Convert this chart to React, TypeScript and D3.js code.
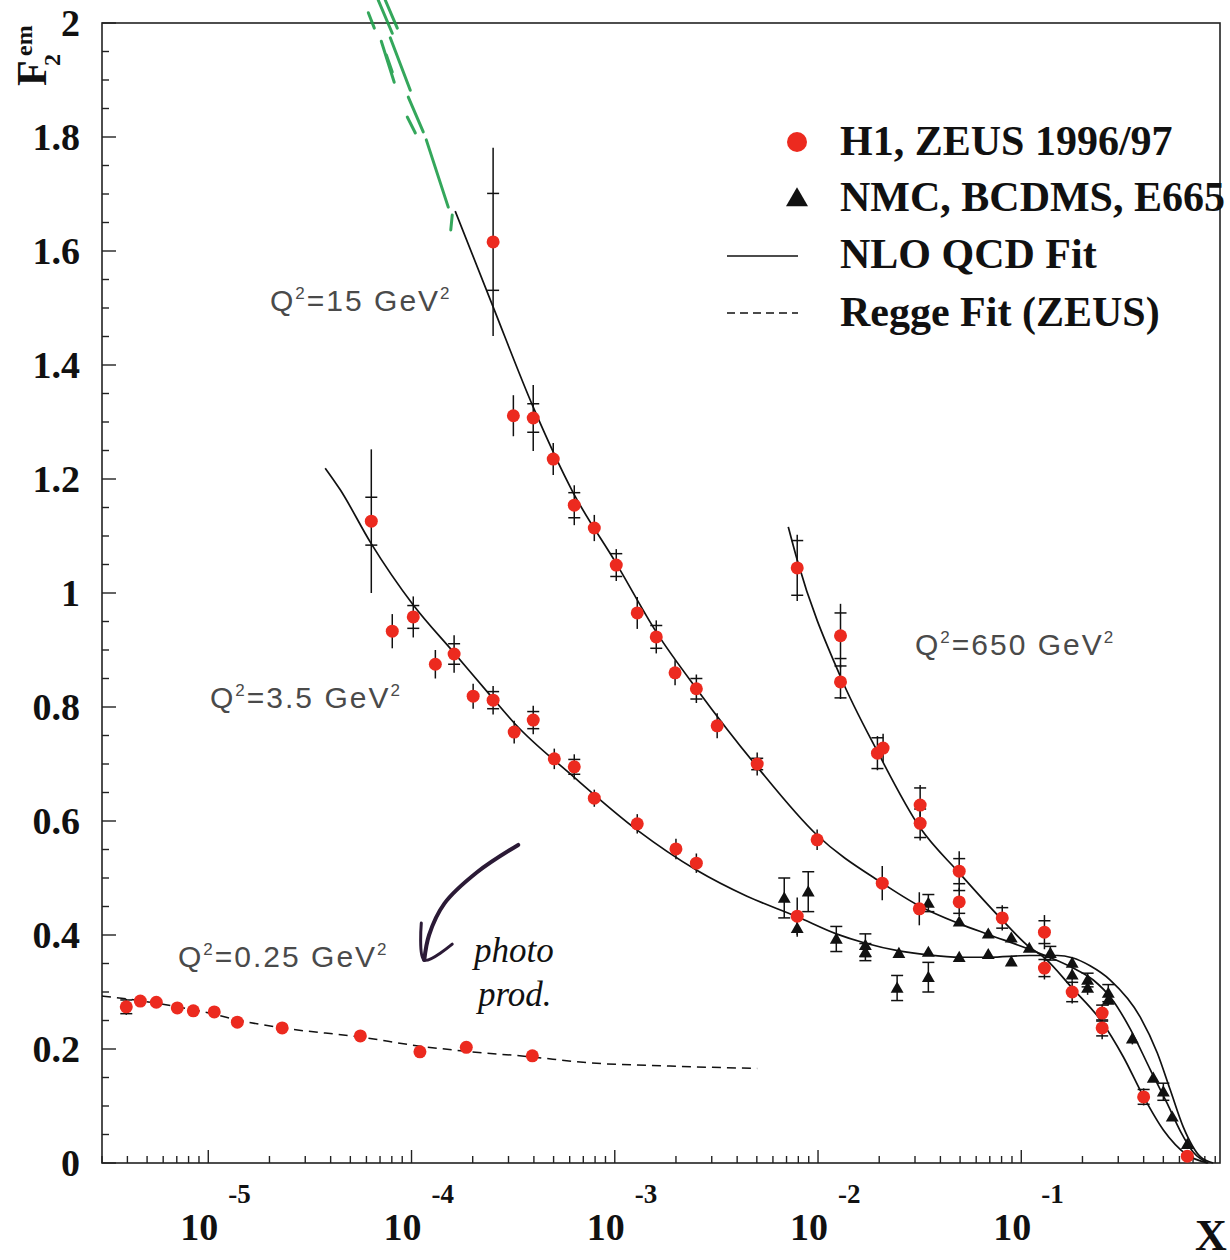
import React from "react";
import * as d3 from "d3";

const W = 1230;
const H = 1260;
const PLOT = { left: 102, right: 1220, top: 23, bottom: 1163 };
const X_DOMAIN: [number, number] = [3e-6, 0.95];
const Y_DOMAIN: [number, number] = [0, 2];

// y-axis tick labels
const yMajorTicks = [0, 0.2, 0.4, 0.6, 0.8, 1, 1.2, 1.4, 1.6, 1.8, 2];
const yMinorStep = 0.05;
// x-axis decade labels (exponents)
const xDecades = [-5, -4, -3, -2, -1];

// points: [x, F2, total error, statistical error (tick marks)]
type Pt = [number, number, number, number];

const h1zeusQ2_15: Pt[] = [
  [2.52e-4, 1.616, 0.165, 0.085],
  [3.17e-4, 1.311, 0.036, 0],
  [3.97e-4, 1.307, 0.058, 0.025],
  [4.98e-4, 1.235, 0.028, 0],
  [6.32e-4, 1.154, 0.035, 0.022],
  [7.93e-4, 1.114, 0.023, 0],
  [1.017e-3, 1.049, 0.028, 0.02],
  [1.29e-3, 0.965, 0.028, 0],
  [1.6e-3, 0.923, 0.029, 0.02],
  [1.98e-3, 0.86, 0.022, 0],
  [2.52e-3, 0.832, 0.025, 0.018],
  [3.19e-3, 0.767, 0.022, 0],
  [5.02e-3, 0.7, 0.02, 0.01],
  [9.9e-3, 0.567, 0.018, 0],
  [2.07e-2, 0.491, 0.03, 0],
  [3.15e-2, 0.446, 0.029, 0],
];

const h1zeusQ2_3p5: Pt[] = [
  [6.34e-5, 1.126, 0.126, 0.042],
  [8.04e-5, 0.933, 0.03, 0],
  [1.02e-4, 0.958, 0.036, 0.02],
  [1.31e-4, 0.875, 0.025, 0],
  [1.62e-4, 0.893, 0.033, 0.018],
  [2.01e-4, 0.819, 0.022, 0],
  [2.52e-4, 0.812, 0.025, 0.015],
  [3.2e-4, 0.756, 0.02, 0],
  [3.97e-4, 0.777, 0.025, 0.015],
  [5.04e-4, 0.709, 0.018, 0],
  [6.32e-4, 0.695, 0.022, 0.013],
  [7.93e-4, 0.64, 0.015, 0],
  [1.29e-3, 0.595, 0.017, 0],
  [2.0e-3, 0.551, 0.018, 0],
  [2.52e-3, 0.526, 0.017, 0],
  [7.9e-3, 0.433, 0.033, 0],
];

const h1zeusQ2_650: Pt[] = [
  [7.9e-3, 1.044, 0.058, 0.048],
  [1.29e-2, 0.925, 0.056, 0.04],
  [1.29e-2, 0.844, 0.03, 0.028],
  [1.96e-2, 0.719, 0.03, 0.027],
  [2.09e-2, 0.728, 0.025, 0],
  [3.18e-2, 0.628, 0.035, 0.03],
  [3.18e-2, 0.596, 0.03, 0.025],
  [4.95e-2, 0.512, 0.035, 0.022],
  [4.95e-2, 0.458, 0.025, 0.02],
  [8.06e-2, 0.43, 0.022, 0.018],
  [0.13, 0.405, 0.03, 0.02],
  [0.13, 0.342, 0.02, 0.015],
  [0.178, 0.3, 0.02, 0.017],
  [0.25, 0.263, 0.015, 0.014],
  [0.25, 0.237, 0.02, 0.014],
  [0.4, 0.116, 0.015, 0.013],
  [0.656, 0.012, 0, 0],
];

const h1zeusQ2_025: Pt[] = [
  [3.95e-6, 0.274, 0.014, 0.012],
  [4.63e-6, 0.284, 0.008, 0],
  [5.55e-6, 0.282, 0.008, 0],
  [7.04e-6, 0.272, 0.006, 0],
  [8.44e-6, 0.267, 0.006, 0],
  [1.07e-5, 0.265, 0.008, 0],
  [1.39e-5, 0.247, 0.006, 0],
  [2.31e-5, 0.237, 0.006, 0],
  [5.6e-5, 0.223, 0.01, 0],
  [1.1e-4, 0.195, 0.008, 0],
  [1.86e-4, 0.203, 0.01, 0],
  [3.93e-4, 0.188, 0.01, 0],
];

const fixedTarget: Pt[] = [
  [6.82e-3, 0.465, 0.035, 0.035],
  [7.9e-3, 0.412, 0.015, 0],
  [8.95e-3, 0.476, 0.035, 0.035],
  [1.23e-2, 0.393, 0.022, 0.022],
  [1.71e-2, 0.382, 0.02, 0.02],
  [1.71e-2, 0.37, 0.015, 0.015],
  [2.45e-2, 0.307, 0.022, 0.022],
  [2.5e-2, 0.368, 0, 0],
  [3.49e-2, 0.456, 0.015, 0.015],
  [3.49e-2, 0.37, 0, 0],
  [3.49e-2, 0.326, 0.026, 0.026],
  [4.95e-2, 0.423, 0, 0],
  [4.95e-2, 0.361, 0, 0],
  [6.88e-2, 0.402, 0, 0],
  [6.88e-2, 0.366, 0, 0],
  [8.93e-2, 0.395, 0, 0],
  [8.93e-2, 0.353, 0, 0],
  [0.1095, 0.377, 0, 0],
  [0.139, 0.368, 0.012, 0.012],
  [0.178, 0.351, 0.01, 0],
  [0.178, 0.33, 0.01, 0],
  [0.212, 0.321, 0.012, 0.012],
  [0.212, 0.307, 0.012, 0],
  [0.268, 0.298, 0.015, 0.015],
  [0.268, 0.286, 0.01, 0],
  [0.352, 0.218, 0.01, 0],
  [0.446, 0.149, 0, 0],
  [0.5, 0.125, 0.015, 0.015],
  [0.553, 0.081, 0, 0],
  [0.656, 0.033, 0, 0],
];

// NLO QCD fit curves: [x, F2]
const nloQ2_3p5: [number, number][] = [
  [3.76e-5, 1.219], [4.46e-5, 1.181], [6.3e-5, 1.088], [1.02e-4, 0.979],
  [1.62e-4, 0.895], [2.5e-4, 0.816], [3.2e-4, 0.772], [6.3e-4, 0.677],
  [1.29e-3, 0.584], [2.52e-3, 0.514], [4.47e-3, 0.468], [7.9e-3, 0.432],
  [1.23e-2, 0.402], [1.7e-2, 0.386], [2.5e-2, 0.372], [3.47e-2, 0.365],
  [5.0e-2, 0.361], [6.9e-2, 0.361], [0.11, 0.364], [0.151, 0.364],
  [0.178, 0.36], [0.218, 0.346], [0.274, 0.321], [0.385, 0.256],
  [0.467, 0.193], [0.541, 0.128], [0.627, 0.063], [0.76, 0.011], [0.88, 0.0],
];

const nloQ2_15: [number, number][] = [
  [1.64e-4, 1.67], [2.52e-4, 1.502], [3.97e-4, 1.326], [6.2e-4, 1.178],
  [1.02e-3, 1.051], [1.61e-3, 0.93], [2.55e-3, 0.83], [5.02e-3, 0.695],
  [9.9e-3, 0.575], [2.07e-2, 0.491], [3.15e-2, 0.451], [4.95e-2, 0.42],
  [6.88e-2, 0.401], [0.1095, 0.375], [0.18, 0.342], [0.226, 0.321],
  [0.28, 0.287], [0.344, 0.235], [0.431, 0.164], [0.523, 0.104],
  [0.606, 0.056], [0.702, 0.019], [0.832, 0.0],
];

const nloQ2_650: [number, number][] = [
  [7.14e-3, 1.116], [7.9e-3, 1.058], [1.29e-2, 0.853], [1.98e-2, 0.719],
  [3.18e-2, 0.588], [4.95e-2, 0.509], [7.88e-2, 0.43], [0.1095, 0.379],
  [0.13, 0.36], [0.178, 0.307], [0.25, 0.247], [0.318, 0.186],
  [0.4, 0.116], [0.5, 0.058], [0.656, 0.014], [0.822, 0.0],
];

// Regge fit (ZEUS), Q2 = 0.25 GeV2
const reggeQ2_025: [number, number][] = [
  [3e-6, 0.293], [3.95e-6, 0.288], [7.04e-6, 0.274], [1.07e-5, 0.261],
  [1.39e-5, 0.251], [2.31e-5, 0.237], [5.6e-5, 0.221], [1.1e-4, 0.205],
  [1.86e-4, 0.196], [3.93e-4, 0.186], [6.76e-4, 0.177], [1.87e-3, 0.17],
  [5.02e-3, 0.166],
];

// hand-drawn green extension strokes: [x1, F2_1, x2, F2_2]
const greenStrokes: [number, number, number, number][] = [
  [6.13e-5, 2.018, 6.56e-5, 1.991],
  [6.86e-5, 2.04, 8.04e-5, 1.982],
  [7.43e-5, 2.04, 8.51e-5, 1.991],
  [7.1e-5, 1.968, 8.22e-5, 1.896],
  [7.86e-5, 1.974, 9.86e-5, 1.882],
  [7.52e-5, 1.944, 8.04e-5, 1.914],
  [9.64e-5, 1.87, 1.142e-4, 1.809],
  [9.53e-5, 1.835, 1.044e-4, 1.807],
  [1.182e-4, 1.795, 1.516e-4, 1.677],
  [1.586e-4, 1.663, 1.56e-4, 1.637],
];

// hand-drawn arrow (shaft and head), [x, F2]
const arrowShaft: [number, number][] = [
  [3.35e-4, 0.558], [2.1e-4, 0.51], [1.45e-4, 0.455], [1.22e-4, 0.4], [1.155e-4, 0.356],
];
const arrowHead: [number, number][] = [
  [1.117e-4, 0.421], [1.155e-4, 0.356], [1.586e-4, 0.384],
];

const RED = "#ec2a1f";
const SERIF = "'Liberation Serif', 'Times New Roman', serif";
const SANS = "'Liberation Sans', Arial, sans-serif";

export default function App() {
  const x = d3.scaleLog().domain(X_DOMAIN).range([PLOT.left, PLOT.right]);
  const y = d3.scaleLinear().domain(Y_DOMAIN).range([PLOT.bottom, PLOT.top]);

  const line = d3
    .line<[number, number]>()
    .x((d) => x(d[0]))
    .y((d) => y(d[1]))
    .curve(d3.curveMonotoneX);
  const rough = d3
    .line<[number, number]>()
    .x((d) => x(d[0]))
    .y((d) => y(d[1]))
    .curve(d3.curveCatmullRom);

  const yMinor = d3.range(0, 2 + 1e-9, yMinorStep);
  const xTicks = x.ticks();
  const isDecade = (v: number) => Math.abs(Math.log10(v) - Math.round(Math.log10(v))) < 1e-6;

  const redSets = [h1zeusQ2_15, h1zeusQ2_3p5, h1zeusQ2_650, h1zeusQ2_025];
  const tri = d3.symbol().type(d3.symbolTriangle).size(72)() as string;
  const triLegend = d3.symbol().type(d3.symbolTriangle).size(210)() as string;

  const errBars = (pts: Pt[], key: string) =>
    pts.map((p, i) => {
      const cx = x(p[0]);
      return (
        <g key={key + i} stroke="#111" strokeWidth={1.5}>
          {p[2] > 0 && <line x1={cx} x2={cx} y1={y(p[1] + p[2])} y2={y(p[1] - p[2])} />}
          {p[3] > 0 && (
            <>
              <line x1={cx - 6} x2={cx + 6} y1={y(p[1] + p[3])} y2={y(p[1] + p[3])} />
              <line x1={cx - 6} x2={cx + 6} y1={y(p[1] - p[3])} y2={y(p[1] - p[3])} />
            </>
          )}
        </g>
      );
    });

  const q2Label = (tx: number, ty: number, val: string) => (
    <text x={tx} y={ty} fontFamily={SANS} fontSize={30} fill="#4a4a4a" letterSpacing={2}>
      Q<tspan dy={-12} fontSize={17}>2</tspan>
      <tspan dy={12}>={val} GeV</tspan>
      <tspan dy={-12} fontSize={17}>2</tspan>
    </text>
  );

  return (
    <svg
      width={W}
      height={H}
      viewBox={`0 0 ${W} ${H}`}
      style={{ position: "absolute", left: 0, top: 0, background: "#fff" }}
    >
      <rect x={0} y={0} width={W} height={H} fill="#fff" />

      {/* frame */}
      <rect
        x={PLOT.left}
        y={PLOT.top}
        width={PLOT.right - PLOT.left}
        height={PLOT.bottom - PLOT.top}
        fill="none"
        stroke="#222"
        strokeWidth={1.6}
      />

      {/* y ticks */}
      {yMinor.map((v, i) => {
        const major = Math.abs(v / 0.2 - Math.round(v / 0.2)) < 1e-6;
        return (
          <line
            key={"ym" + i}
            x1={PLOT.left}
            x2={PLOT.left + (major ? 14 : 7)}
            y1={y(v)}
            y2={y(v)}
            stroke="#222"
            strokeWidth={1.4}
          />
        );
      })}
      {yMajorTicks.map((v) => (
        <text
          key={"yl" + v}
          x={80}
          y={y(v) + 13}
          textAnchor="end"
          fontFamily={SERIF}
          fontWeight="bold"
          fontSize={38}
          fill="#111"
        >
          {String(+v.toFixed(1))}
        </text>
      ))}

      {/* x ticks */}
      {xTicks.map((v, i) => (
        <line
          key={"xt" + i}
          x1={x(v)}
          x2={x(v)}
          y1={PLOT.bottom}
          y2={PLOT.bottom - (isDecade(v) ? 13 : 7)}
          stroke="#222"
          strokeWidth={1.4}
        />
      ))}
      {xDecades.map((e) => {
        const tx = x(Math.pow(10, e));
        return (
          <g key={"xl" + e} fontFamily={SERIF} fontWeight="bold" fill="#111">
            <text x={tx + 10} y={1240} textAnchor="end" fontSize={38}>
              10
            </text>
            <text x={tx + 20} y={1203} fontSize={27}>
              {String(e)}
            </text>
          </g>
        );
      })}
      <text x={1195} y={1250} fontFamily={SERIF} fontWeight="bold" fontSize={44} fill="#111">
        X
      </text>

      {/* y title */}
      <g transform="translate(46,86) rotate(-90)" fontFamily={SERIF} fontWeight="bold" fill="#111">
        <text x={0} y={0} fontSize={42}>
          F
        </text>
        <text x={20} y={14} fontSize={24}>
          2
        </text>
        <text x={30} y={-14} fontSize={24}>
          em
        </text>
      </g>

      {/* hand-drawn green extension */}
      <g stroke="#1f9e4a" strokeWidth={3} strokeLinecap="round" opacity={0.9}>
        {greenStrokes.map((s, i) => (
          <line key={"g" + i} x1={x(s[0])} y1={y(s[1])} x2={x(s[2])} y2={y(s[3])} />
        ))}
      </g>

      {/* fit curves */}
      <g fill="none" stroke="#111" strokeWidth={1.7}>
        <path d={line(nloQ2_3p5) || ""} />
        <path d={line(nloQ2_15) || ""} />
        <path d={line(nloQ2_650) || ""} />
        <path d={line(reggeQ2_025) || ""} strokeDasharray="9 6" strokeWidth={1.5} />
      </g>

      {/* error bars */}
      {redSets.map((s, k) => errBars(s, "r" + k))}
      {errBars(fixedTarget, "t")}

      {/* markers */}
      {fixedTarget.map((p, i) => (
        <path key={"tri" + i} d={tri} transform={`translate(${x(p[0])},${y(p[1]) + 1})`} fill="#111" />
      ))}
      {redSets.map((s, k) =>
        s.map((p, i) => <circle key={"c" + k + "_" + i} cx={x(p[0])} cy={y(p[1])} r={6.5} fill={RED} />)
      )}

      {/* Q2 labels */}
      {q2Label(270, 311, "15")}
      {q2Label(210, 708, "3.5")}
      {q2Label(915, 655, "650")}
      {q2Label(178, 967, "0.25")}

      {/* handwritten annotation */}
      <g fill="none" stroke="#2b1a36" strokeWidth={4} strokeLinecap="round" strokeLinejoin="round">
        <path d={rough(arrowShaft) || ""} />
        <path d={rough(arrowHead) || ""} strokeWidth={3} />
      </g>
      <text x={474} y={962} fontFamily={SERIF} fontStyle="italic" fontSize={35} fill="#111">
        photo
      </text>
      <text x={478} y={1006} fontFamily={SERIF} fontStyle="italic" fontSize={35} fill="#111">
        prod.
      </text>

      {/* legend */}
      <circle cx={797} cy={142} r={10} fill={RED} />
      <path d={triLegend} transform="translate(797,200)" fill="#111" />
      <line x1={727} x2={798} y1={256} y2={256} stroke="#111" strokeWidth={1.7} />
      <line x1={727} x2={798} y1={313} y2={313} stroke="#111" strokeWidth={1.5} strokeDasharray="8 5" />
      <g fontFamily={SERIF} fontWeight="bold" fontSize={42} fill="#111">
        <text x={840} y={155}>H1, ZEUS 1996/97</text>
        <text x={840} y={211}>NMC, BCDMS, E665</text>
        <text x={840} y={268}>NLO QCD Fit</text>
        <text x={840} y={326}>Regge Fit (ZEUS)</text>
      </g>
    </svg>
  );
}
